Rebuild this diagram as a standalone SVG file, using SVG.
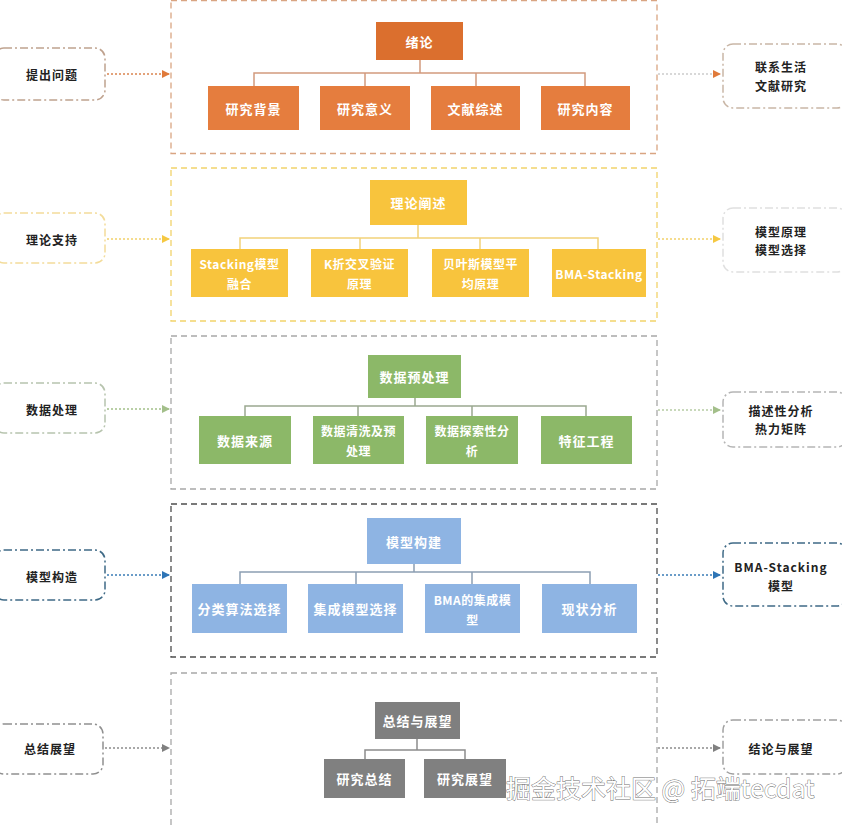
<svg xmlns="http://www.w3.org/2000/svg" width="842" height="826" viewBox="0 0 842 826">
<style>
.t{font-family:"Noto Sans CJK SC","Liberation Sans",sans-serif;text-anchor:middle;dominant-baseline:central}
.w{fill:#fff;font-size:13px;font-weight:bold;letter-spacing:1px}
.w2{font-size:12px;letter-spacing:0.5px}
.k{fill:#222;font-size:12px;font-weight:bold;letter-spacing:1px}
.sec{fill:none;stroke-width:1.3;stroke-dasharray:6 4}
.side{fill:#fff;stroke-width:1.5;stroke-dasharray:8 3 2 3}
.arr{fill:none;stroke-width:2;stroke-dasharray:2 2}
.tree{fill:none;stroke-width:1.5}
</style>
<defs>
<marker id="mo" markerWidth="8" markerHeight="8" refX="7" refY="4" orient="auto" markerUnits="userSpaceOnUse"><path d="M0,0 L8,4 L0,8z" fill="#E07A3A"/></marker>
<marker id="my" markerWidth="8" markerHeight="8" refX="7" refY="4" orient="auto" markerUnits="userSpaceOnUse"><path d="M0,0 L8,4 L0,8z" fill="#F5C842"/></marker>
<marker id="mg" markerWidth="8" markerHeight="8" refX="7" refY="4" orient="auto" markerUnits="userSpaceOnUse"><path d="M0,0 L8,4 L0,8z" fill="#A3BF8A"/></marker>
<marker id="mb" markerWidth="8" markerHeight="8" refX="7" refY="4" orient="auto" markerUnits="userSpaceOnUse"><path d="M0,0 L8,4 L0,8z" fill="#2E75B6"/></marker>
<marker id="mk" markerWidth="8" markerHeight="8" refX="7" refY="4" orient="auto" markerUnits="userSpaceOnUse"><path d="M0,0 L8,4 L0,8z" fill="#808080"/></marker>
</defs>
<rect width="842" height="826" fill="#fff"/>

<g id="frames">
<rect class="sec" x="171" y="0.5" width="486" height="153" stroke="#D9A582"/>
<rect class="sec" x="171" y="168" width="486" height="153" stroke="#F2D36B"/>
<rect class="sec" x="171" y="336" width="486" height="153" stroke="#A8A8A8"/>
<rect class="sec" x="171" y="504" width="486" height="153" stroke="#4D4D4D"/>
<rect class="sec" x="171" y="673" width="486" height="160" stroke="#A8A8A8"/>
</g>

<g id="connectors">
<path class="tree" stroke="#D29A7E" d="M420,60 V73 M254,86 V73 H585 V86 M365,73 V86 M476,73 V86"/>
<path class="tree" stroke="#F2D27A" d="M418,225 V238 M240,249 V238 H598 V249 M360,238 V249 M480,238 V249"/>
<path class="tree" stroke="#9AA890" d="M415,398 V406 M245,416 V406 H586 V416 M358,406 V416 M472,406 V416"/>
<path class="tree" stroke="#8C9EB3" d="M414,564 V572 M240,584 V572 H590 V584 M356,572 V584 M472,572 V584"/>
<path class="tree" stroke="#8C8C8C" d="M417,739 V750 M365,759 V750 H465 V759"/>
<line class="arr" x1="107" y1="74" x2="169" y2="74" stroke="#E3A27A" marker-end="url(#mo)"/>
<line class="arr" x1="658" y1="74" x2="720" y2="74" stroke="#D8D8D8" marker-end="url(#mo)"/>
<line class="arr" x1="107" y1="239" x2="169" y2="239" stroke="#F5DC8E" marker-end="url(#my)"/>
<line class="arr" x1="658" y1="239" x2="720" y2="239" stroke="#F5DC8E" marker-end="url(#my)"/>
<line class="arr" x1="107" y1="409" x2="169" y2="409" stroke="#B9CFA6" marker-end="url(#mg)"/>
<line class="arr" x1="658" y1="410" x2="720" y2="410" stroke="#C8D8BA" marker-end="url(#mg)"/>
<line class="arr" x1="107" y1="575" x2="169" y2="575" stroke="#6A9CC8" marker-end="url(#mb)"/>
<line class="arr" x1="658" y1="575" x2="720" y2="575" stroke="#6A9CC8" marker-end="url(#mb)"/>
<line class="arr" x1="105" y1="748" x2="169" y2="748" stroke="#A8A8A8" marker-end="url(#mk)"/>
<line class="arr" x1="658" y1="748" x2="720" y2="748" stroke="#A8A8A8" marker-end="url(#mk)"/>
</g>

<g id="s1-title"><rect x="376" y="22" width="87" height="38" fill="#DB6F2E"/><text class="t w" x="419.5" y="41">绪论</text></g>
<g id="s1-c1"><rect x="208" y="86" width="91" height="44" fill="#E57D3E"/><text class="t w" x="253.5" y="108">研究背景</text></g>
<g id="s1-c2"><rect x="320" y="86" width="90" height="44" fill="#E57D3E"/><text class="t w" x="365" y="108">研究意义</text></g>
<g id="s1-c3"><rect x="431" y="86" width="89" height="44" fill="#E57D3E"/><text class="t w" x="475.5" y="108">文献综述</text></g>
<g id="s1-c4"><rect x="541" y="86" width="89" height="44" fill="#E57D3E"/><text class="t w" x="585.5" y="108">研究内容</text></g>
<g id="s1-left"><rect class="side" x="-6" y="48" width="111" height="52" rx="10" stroke="#BFA28E"/><text class="t k" x="52" y="74">提出问题</text></g>
<g id="s1-right"><rect class="side" x="723" y="44" width="124" height="64" rx="10" stroke="#C9B6A6"/><text class="t k" x="781" y="66">联系生活</text><text class="t k" x="781" y="85">文献研究</text></g>

<g id="s2-title"><rect x="370" y="180" width="97" height="45" fill="#F8C43D"/><text class="t w" x="418.5" y="202.5">理论阐述</text></g>
<g id="s2-c1"><rect x="191" y="249" width="97" height="48" fill="#F8C43D"/><text class="t w w2" x="239.5" y="263">Stacking模型</text><text class="t w w2" x="239.5" y="283">融合</text></g>
<g id="s2-c2"><rect x="311" y="249" width="97" height="48" fill="#F8C43D"/><text class="t w w2" x="359.5" y="263">K折交叉验证</text><text class="t w w2" x="359.5" y="283">原理</text></g>
<g id="s2-c3"><rect x="432" y="249" width="97" height="48" fill="#F8C43D"/><text class="t w w2" x="480.5" y="263">贝叶斯模型平</text><text class="t w w2" x="480.5" y="283">均原理</text></g>
<g id="s2-c4"><rect x="552" y="249" width="94" height="48" fill="#F8C43D"/><text class="t w w2" x="599" y="273">BMA-Stacking</text></g>
<g id="s2-left"><rect class="side" x="-6" y="213" width="111" height="50" rx="10" stroke="#F3DC9A"/><text class="t k" x="52" y="239">理论支持</text></g>
<g id="s2-right"><rect class="side" x="723" y="208" width="124" height="64" rx="10" stroke="#E0E0E0"/><text class="t k" x="781" y="231">模型原理</text><text class="t k" x="781" y="249">模型选择</text></g>

<g id="s3-title"><rect x="368" y="355" width="93" height="43" fill="#8CB868"/><text class="t w" x="414.5" y="376.5">数据预处理</text></g>
<g id="s3-c1"><rect x="199" y="416" width="92" height="48" fill="#8CB868"/><text class="t w" x="245" y="440">数据来源</text></g>
<g id="s3-c2"><rect x="313" y="416" width="91" height="48" fill="#8CB868"/><text class="t w w2" x="358.5" y="430">数据清洗及预</text><text class="t w w2" x="358.5" y="450">处理</text></g>
<g id="s3-c3"><rect x="426" y="416" width="92" height="48" fill="#8CB868"/><text class="t w w2" x="472" y="430">数据探索性分</text><text class="t w w2" x="472" y="450">析</text></g>
<g id="s3-c4"><rect x="541" y="416" width="91" height="48" fill="#8CB868"/><text class="t w" x="586.5" y="440">特征工程</text></g>
<g id="s3-left"><rect class="side" x="-6" y="383" width="111" height="50" rx="10" stroke="#B7C4AE"/><text class="t k" x="52" y="409">数据处理</text></g>
<g id="s3-right"><rect class="side" x="723" y="392" width="124" height="55" rx="10" stroke="#B5B5B5"/><text class="t k" x="781" y="410">描述性分析</text><text class="t k" x="781" y="428">热力矩阵</text></g>

<g id="s4-title"><rect x="367" y="518" width="94" height="46" fill="#8EB4E3"/><text class="t w" x="414" y="541">模型构建</text></g>
<g id="s4-c1"><rect x="192" y="584" width="95" height="49" fill="#8EB4E3"/><text class="t w" x="239.5" y="608.5">分类算法选择</text></g>
<g id="s4-c2"><rect x="308" y="584" width="95" height="49" fill="#8EB4E3"/><text class="t w" x="355.5" y="608.5">集成模型选择</text></g>
<g id="s4-c3"><rect x="425" y="584" width="95" height="49" fill="#8EB4E3"/><text class="t w w2" x="472.5" y="599">BMA的集成模</text><text class="t w w2" x="472.5" y="619">型</text></g>
<g id="s4-c4"><rect x="542" y="584" width="95" height="49" fill="#8EB4E3"/><text class="t w" x="589.5" y="608.5">现状分析</text></g>
<g id="s4-left"><rect class="side" x="-6" y="550" width="111" height="50" rx="10" stroke="#3F6A86"/><text class="t k" x="52" y="576">模型构造</text></g>
<g id="s4-right"><rect class="side" x="723" y="543" width="124" height="63" rx="10" stroke="#3F6A86"/><text class="t k" x="781" y="566">BMA-Stacking</text><text class="t k" x="781" y="585">模型</text></g>

<g id="s5-title"><rect x="375" y="702" width="85" height="37" fill="#7F7F7F"/><text class="t w" x="417.5" y="720.5">总结与展望</text></g>
<g id="s5-c1"><rect x="324" y="759" width="81" height="39" fill="#808080"/><text class="t w" x="364.5" y="778.5">研究总结</text></g>
<g id="s5-c2"><rect x="424" y="759" width="82" height="39" fill="#808080"/><text class="t w" x="465" y="778.5">研究展望</text></g>
<g id="s5-left"><rect class="side" x="-6" y="724" width="109" height="50" rx="10" stroke="#909090"/><text class="t k" x="50" y="748">总结展望</text></g>
<g id="s5-right"><rect class="side" x="723" y="720" width="124" height="54" rx="10" stroke="#A0A0A0"/><text class="t k" x="781" y="748">结论与展望</text></g>

<text x="506" y="798" font-family="'Noto Sans CJK SC','Liberation Sans',sans-serif" font-size="25" fill="#fff" stroke="#707070" stroke-width="0.9" paint-order="stroke">掘金技术社区 @ 拓端tecdat</text>
</svg>
